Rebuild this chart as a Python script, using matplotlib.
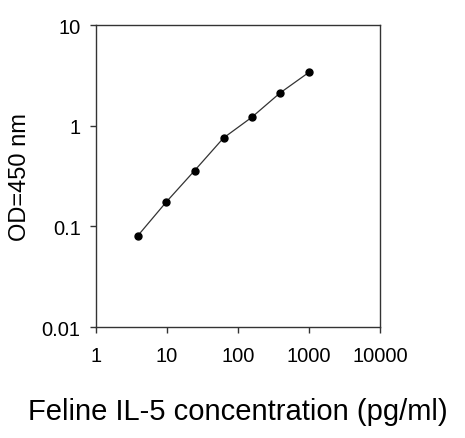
import matplotlib
matplotlib.use("Agg")
import matplotlib.pyplot as plt
from matplotlib.ticker import FixedLocator, FixedFormatter, NullLocator

# Standard curve readings (concentration in pg/ml, OD at 450 nm)
concentration = [3.9, 9.8, 24.4, 62.5, 156, 390, 1000]
od_450 = [0.081, 0.175, 0.357, 0.755, 1.21, 2.11, 3.39]

x_ticks = [1, 10, 100, 1000, 10000]
x_tick_labels = ["1", "10", "100", "1000", "10000"]
y_ticks = [0.01, 0.1, 1, 10]
y_tick_labels = ["0.01", "0.1", "1", "10"]

plt.rcParams["font.family"] = ["Liberation Sans", "DejaVu Sans"]

fig = plt.figure(figsize=(4.65, 4.39), dpi=100)
ax = fig.add_axes([96 / 465, 1 - 328 / 439, 284 / 465, 302 / 439])

ax.plot(concentration, od_450, color="#333333", linewidth=0.9,
        marker="o", markersize=5, markerfacecolor="black",
        markeredgecolor="black")

ax.set_xscale("log")
ax.set_yscale("log")
ax.set_xlim(1, 10000)
ax.set_ylim(0.01, 10)

ax.xaxis.set_major_locator(FixedLocator(x_ticks))
ax.xaxis.set_major_formatter(FixedFormatter(x_tick_labels))
ax.xaxis.set_minor_locator(NullLocator())
ax.yaxis.set_major_locator(FixedLocator(y_ticks))
ax.yaxis.set_major_formatter(FixedFormatter(y_tick_labels))
ax.yaxis.set_minor_locator(NullLocator())

for spine in ax.spines.values():
    spine.set_color("#333333")
    spine.set_linewidth(1.0)

ax.tick_params(axis="both", direction="out", length=4, width=1.0,
               color="#333333", labelsize=14.5)
ax.tick_params(axis="x", pad=10)
ax.tick_params(axis="y", pad=7)

ax.set_xlabel("Feline IL-5 concentration (pg/ml)", fontsize=21, labelpad=23)
ax.set_ylabel("OD=450 nm", fontsize=17, labelpad=8)

fig.savefig("out.png", dpi=100)
